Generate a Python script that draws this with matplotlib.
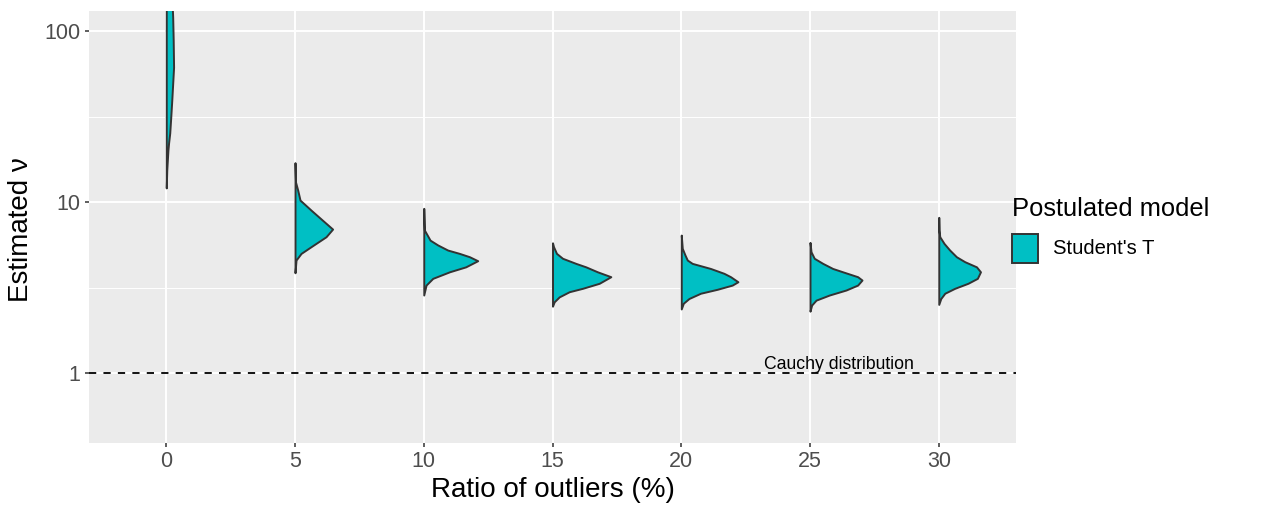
import numpy as np
import matplotlib
matplotlib.use("Agg")
import matplotlib.pyplot as plt
from matplotlib.patches import Rectangle
from matplotlib.ticker import NullFormatter

plt.rcParams['font.family'] = ['Liberation Sans', 'DejaVu Sans']

# outlier ratios (discrete x categories)
ratios = ["0", "5", "10", "15", "20", "25", "30"]

# half-violin profiles: estimated nu and half width (category units)
nu_0 = [12.1, 15.4, 20.1, 22.1, 25.3, 31.4, 39.5, 61.5, 88.5, 120.8, 160, 220, 300]
w_0 = [0, .004, .013, .018, .027, .035, .043, .057, .054, .050, .043, .027, 0]

nu_5 = [3.86, 4.58, 5.01, 5.48, 6.27, 6.95, 7.85, 8.98, 10.27, 11.75, 13.1, 17.0]
w_5 = [0, .008, .047, .124, .241, .292, .212, .124, .039, .021, .004, 0]

nu_10 = [2.86, 3.27, 3.58, 3.91, 4.18, 4.54, 4.79, 5.01, 5.24, 5.61, 5.99, 6.86, 9.19]
w_10 = [0, .018, .070, .200, .326, .419, .355, .277, .186, .109, .049, .005, 0]

nu_15 = [2.46, 2.61, 2.79, 2.99, 3.13, 3.35, 3.66, 3.91, 4.18, 4.38, 4.69, 5.01, 5.48, 5.78]
w_15 = [0, .013, .052, .130, .233, .363, .453, .349, .259, .181, .078, .031, .008, 0]

nu_20 = [2.37, 2.56, 2.73, 2.93, 3.09, 3.27, 3.42, 3.66, 3.83, 4.09, 4.38, 4.58, 4.90, 5.36, 6.41]
w_20 = [0, .016, .060, .150, .280, .396, .440, .383, .332, .227, .085, .047, .029, .008, 0]

nu_25 = [2.30, 2.50, 2.67, 2.86, 3.06, 3.27, 3.50, 3.66, 3.91, 4.09, 4.38, 4.69, 5.12, 5.81]
w_25 = [0, .013, .047, .150, .280, .370, .404, .370, .254, .176, .099, .033, .008, 0]

nu_30 = [2.52, 2.73, 2.93, 3.13, 3.35, 3.58, 3.91, 4.18, 4.48, 4.79, 5.24, 5.73, 6.27, 6.86, 8.14]
w_30 = [0, .016, .047, .124, .227, .300, .324, .293, .202, .137, .085, .041, .008, .002, 0]

profiles = [(nu_0, w_0), (nu_5, w_5), (nu_10, w_10), (nu_15, w_15),
            (nu_20, w_20), (nu_25, w_25), (nu_30, w_30)]

cauchy_nu = 1
fill_col = "#00BFC4"
edge_col = "#333333"

fig = plt.figure(figsize=(12.81, 5.09), dpi=100)
W, H = 1281, 509
ax = fig.add_axes([89 / W, 1 - 443 / H, (1016 - 89) / W, (443 - 11) / H])

ax.set_yscale('log')
ax.set_facecolor("#EBEBEB")
for s in ax.spines.values():
    s.set_visible(False)

ax.set_xticks(range(len(ratios)))
ax.set_xticklabels(ratios)
ax.set_yticks([1, 10, 100])
ax.set_yticklabels(["1", "10", "100"])
ax.set_yticks([10 ** 0.5, 10 ** 1.5], minor=True)
ax.yaxis.set_minor_formatter(NullFormatter())
ax.tick_params(which='major', length=3.2, width=1.1, color=edge_col,
               labelcolor="#4D4D4D", labelsize=15.5)
ax.tick_params(axis='x', pad=2.5)
ax.tick_params(axis='y', pad=3.2)
ax.tick_params(which='minor', length=0)
ax.grid(which='major', color='white', lw=1.4)
ax.grid(which='minor', axis='y', color='white', lw=0.7)
ax.set_axisbelow(True)

# half violins
for i, (nu, w) in enumerate(profiles):
    nu = np.array(nu)
    w = np.array(w)
    ax.fill_betweenx(nu, i, i + w, facecolor=fill_col, edgecolor=edge_col,
                     lw=1.4, joinstyle='round', zorder=3)

# Cauchy reference line
ax.axhline(cauchy_nu, color='black', lw=1.3, ls=(0, (4, 4)), zorder=2)
ax.text(5.225, cauchy_nu, "Cauchy distribution", ha='center', va='bottom',
        fontsize=12.7, zorder=4)

ax.set_xlim(-0.6, 6.6)
ax.set_ylim(0.39, 131)

# axis titles
fig.text(552.5 / W, 1 - 496.7 / H, "Ratio of outliers (%)", ha='center',
         va='baseline', fontsize=20)
fig.text(21 / W, 1 - 230 / H, "Estimated ν", ha='center', va='center',
         rotation=90, fontsize=20)

# legend
fig.text(1012 / W, 1 - 216 / H, "Postulated model", ha='left', va='baseline',
         fontsize=18.4)
fig.add_artist(Rectangle((1012 / W, 1 - 263 / H), 26 / W, 29 / H,
                         transform=fig.transFigure, facecolor=fill_col,
                         edgecolor=edge_col, lw=1.4))
fig.text(1053 / W, 1 - 248.5 / H, "Student's T", ha='left', va='center',
         fontsize=14.6)

fig.savefig("out.png", dpi=100)
